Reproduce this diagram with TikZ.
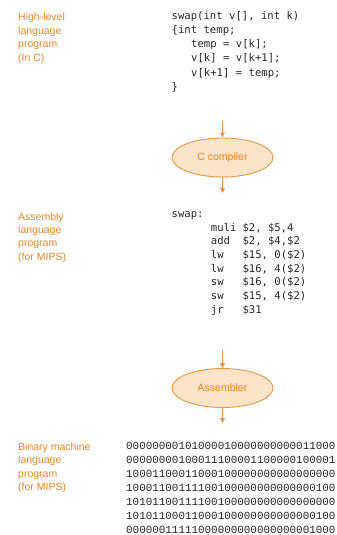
\documentclass[tikz,border=0pt]{standalone}
\usepackage{fontspec}
\setmainfont{Liberation Sans}
\newfontfamily\codefont{DejaVu Sans Mono}
\newfontfamily\binfont{Liberation Mono}
\usetikzlibrary{arrows.meta, shapes.geometric}
\definecolor{lblorange}{RGB}{232,134,40}
\definecolor{toolfill}{RGB}{252,228,200}
\definecolor{tooldraw}{RGB}{232,150,72}

\begin{document}
\begin{tikzpicture}[x=1pt, y=-1pt,
    lbl/.style={font=\fontsize{10.5}{12}\selectfont, text=lblorange, anchor=base west, inner sep=0},
    code/.style={font=\codefont\fontsize{10.6}{12}\selectfont, text=black!85, anchor=base west, inner sep=0},
    bits/.style={font=\binfont\fontsize{10.9}{12}\selectfont, text=black!85, anchor=base west, inner sep=0},
    tool/.style={ellipse, draw=tooldraw, fill=toolfill, line width=0.9pt, minimum width=101, minimum height=39, inner sep=0, text=lblorange, font=\fontsize{10.5}{12}\selectfont},
    flow/.style={draw=tooldraw, line width=1pt, -{Triangle[length=5pt, width=5pt]}}]
    \useasboundingbox (0,0) rectangle (337,535);

    % C source
    \foreach \t [count=\i from 0] in {High-level, language, program, (In C)}
        \node[lbl] (hl\i) at (18, 21+13.4*\i) {\t};
    \node[code] (src0) at (171.5,20) {swap(int v[], int k)};
    \node[code] (src1) at (171.5,34) {\{int temp;};
    \foreach \i/\t in {2/{temp = v[k];}, 3/{v[k] = v[k+1];}, 4/{v[k+1] = temp;}}
        \node[code] (src\i) at (191,20+14*\i) {\t};
    \node[code] (src5) at (171.5,90) {\}};

    \node[tool] (cc) at (222.5,157.5) {C compiler};
    \coordinate (ccin) at (222.5,121);
    \coordinate (ccout) at (222.5,193);
    \draw[flow] (ccin) -- (cc);
    \draw[flow] (cc) -- (ccout);

    % MIPS assembly
    \foreach \t [count=\i from 0] in {Assembly, language, program, (for MIPS)}
        \node[lbl] (al\i) at (18, 220+13.4*\i) {\t};
    \node[code] (asw) at (171.5,217.3) {swap:};
    \foreach \i/\op/\arg in {0/muli/{\$2, \$5,4}, 1/add/{\$2, \$4,\$2}, 2/lw/{\$15, 0(\$2)},
            3/lw/{\$16, 4(\$2)}, 4/sw/{\$16, 0(\$2)}, 5/sw/{\$15, 4(\$2)}, 6/jr/{\$31}} {
        \node[code] (op\i) at (210.7, 231+13.7*\i) {\op};
        \node[code] (arg\i) at (242.3, 231+13.7*\i) {\arg};
    }

    \node[tool] (as) at (222.5,388) {Assembler};
    \coordinate (asin) at (222.5,350);
    \coordinate (asout) at (222.5,423);
    \draw[flow] (asin) -- (as);
    \draw[flow] (as) -- (asout);

    % machine code
    \foreach \t [count=\i from 0] in {Binary machine, language, program, (for MIPS)}
        \node[lbl] (bl\i) at (18, 450.5+13.4*\i) {\t};
    \foreach \i/\b in {0/00000000101000010000000000011000, 1/00000000100011100001100000100001,
            2/10001100011000100000000000000000, 3/10001100111100100000000000000100,
            4/10101100111100100000000000000000, 5/10101100011000100000000000000100,
            6/00000011111000000000000000001000}
        \node[bits] (bin\i) at (126, 449+14*\i) {\b};
\end{tikzpicture}
\end{document}
